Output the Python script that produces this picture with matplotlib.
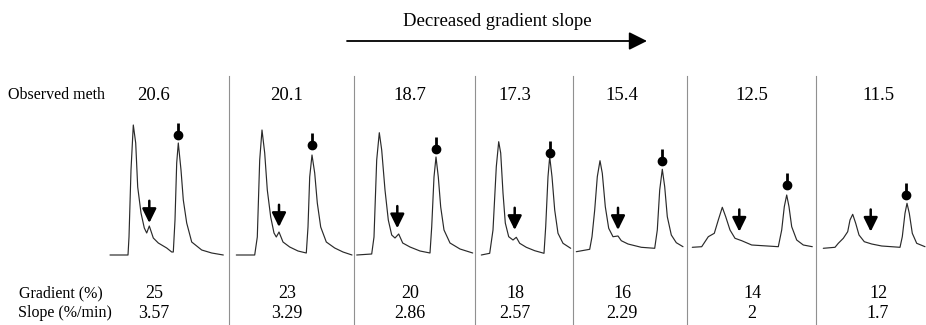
import matplotlib
matplotlib.use("Agg")
import matplotlib.pyplot as plt
from matplotlib.lines import Line2D
from matplotlib.patches import FancyArrowPatch

plt.rcParams['font.family'] = ['Liberation Serif', 'DejaVu Serif']

# ---------------- data ----------------
observed_meth = ["20.6", "20.1", "18.7", "17.3", "15.4", "12.5", "11.5"]
gradient_pct = ["25", "23", "20", "18", "16", "14", "12"]
slope_pct_min = ["3.57", "3.29", "2.86", "2.57", "2.29", "2", "1.7"]

# chromatogram traces (time in arbitrary units from panel start, signal in arbitrary units)
t1 = [5, 23, 24, 26, 28.3, 30.7, 32.7, 36, 39.3, 41.7, 44.3, 48.3, 53.3, 61.7, 66.7, 68.3, 70, 71.7, 73.3, 76, 78.3, 81.7, 86.7, 96.7, 106.7, 118.3]
s1 = [0, 0, 18, 85, 130, 112, 68, 42, 27, 22, 29, 17, 12, 7, 3, 3, 35, 92, 112, 85, 55, 32, 13, 5, 2, 0]
t2 = [7.3, 25.7, 28.3, 30.7, 33, 35.7, 38.3, 41.7, 45, 47.3, 50, 54, 60.7, 69, 77.3, 79, 80.7, 83, 85.7, 88.3, 91.7, 97.3, 105.7, 114, 123]
s2 = [0, 0, 18, 95, 125, 102, 65, 38, 22, 18, 23, 13, 8, 4, 2, 28, 78, 100, 82, 52, 28, 13, 7, 3, 0]
t3 = [2.7, 17.7, 20, 22.7, 25.3, 27.7, 31, 34.3, 37.7, 41, 44.7, 48.7, 56, 66, 76, 77.7, 80, 82, 84.3, 86.7, 90, 96, 106, 118.7]
s3 = [0, 1, 18, 95, 122.3, 105, 65, 35, 20, 17, 21, 12, 8, 4, 2, 28, 78, 98, 78, 48, 25, 12, 6, 2]
t4 = [6.3, 14.7, 18, 21.3, 23.7, 25.7, 28, 30.3, 33.7, 38, 41.3, 44.7, 51.3, 59.7, 69, 70.7, 73, 74.7, 77, 79.7, 83, 88, 95.7]
s4 = [0, 1.7, 25, 88.3, 113.3, 102, 62, 32, 18.3, 15, 17.7, 11.7, 7.7, 4.3, 1.7, 28.3, 78.3, 98.3, 78.3, 45, 21.7, 11.7, 6.7]
t5 = [3.3, 16.7, 19, 21.7, 24.3, 27, 29.3, 32.3, 35.7, 40, 45, 48.3, 55, 68.3, 81.7, 84.3, 86.7, 89.3, 91.7, 94.3, 98.3, 103.3, 110]
s5 = [3.3, 5.7, 18.3, 45, 78.3, 94.3, 81.7, 48.3, 26.7, 18.3, 19, 14.3, 11, 7.7, 6.7, 25, 65, 85.7, 68.3, 38.3, 20, 12.3, 8.3]
t6 = [5.3, 14.7, 18, 21.3, 27.3, 31.3, 35.3, 38.7, 43, 48, 54.7, 64.7, 91.3, 94.7, 97.3, 99.7, 102, 104.7, 109.7, 116.3, 125.3]
s6 = [7.7, 8.3, 13.3, 18.3, 21.7, 35, 47.7, 38.3, 25, 16.7, 14.3, 10, 8.3, 25, 48.3, 60, 48.3, 28.3, 15, 10, 8.3]
t7 = [7.3, 19, 22.3, 27.3, 31.7, 34, 36.7, 39.7, 43, 48.3, 55.7, 65.7, 84, 86.3, 89, 91, 93.3, 96.3, 100.7, 109]
s7 = [6.7, 7.7, 11.7, 16.7, 23.3, 35, 40.7, 31.7, 20, 13.3, 11, 9, 7.7, 18.3, 41.7, 51.7, 41.7, 21.7, 11.7, 8.3]

traces_t = [t1, t2, t3, t4, t5, t6, t7]
traces_s = [s1, s2, s3, s4, s5, s6, s7]

# marker positions (dot above main peak, arrow above minor shoulder)
dot_t = [73.3, 83, 82, 74.7, 89.3, 99.7, 90]
dot_s = [120, 110, 105.7, 101.7, 94.3, 70, 60]
arrow_t = [44.3, 50, 43.3, 39.7, 45, 52.3, 54.7]
arrow_tip_s = [32, 28, 26.7, 25, 25, 23.3, 23.3]

# ---------------- layout ----------------
W, H = 926, 325
fig = plt.figure(figsize=(W / 100, H / 100), dpi=100)
fig.patch.set_facecolor('white')

edges = [105, 229, 354, 475, 573, 687, 816, 926]
top_px, bot_px = 110, 265
base_px = 255

def fx(x):
    return x / W

def fy(y):
    return 1 - y / H

for i in range(7):
    L, R = edges[i], edges[i + 1]
    ax = fig.add_axes([fx(L), fy(bot_px), (R - L) / W, (bot_px - top_px) / H])
    ax.set_xlim(0, R - L)
    ax.set_ylim(base_px - bot_px, base_px - top_px)
    ax.axis('off')
    ax.plot(traces_t[i], traces_s[i], color='#2a2a2a', lw=0.85,
            solid_joinstyle='round', solid_capstyle='round')
    # dot marker with stem
    ax.vlines(dot_t[i], dot_s[i], dot_s[i] + 12, color='k', lw=2.0, clip_on=False)
    ax.plot([dot_t[i]], [dot_s[i]], 'o', color='k', ms=6, clip_on=False)
    # down arrow
    ax.annotate('', xy=(arrow_t[i], arrow_tip_s[i]), xytext=(0, 16),
                textcoords='offset points',
                arrowprops=dict(arrowstyle='-|>,head_length=0.85,head_width=0.42',
                                lw=1.8, color='k', shrinkA=0, shrinkB=0,
                                mutation_scale=10),
                annotation_clip=False)

# dividers
for x in edges[1:-1]:
    fig.add_artist(Line2D([fx(x), fx(x)], [fy(76), fy(325)], color='#909090', lw=0.8))

# title arrow
fig.add_artist(FancyArrowPatch((fx(347), fy(41)), (fx(647), fy(41)),
                               transform=fig.transFigure,
                               arrowstyle='-|>,head_length=11,head_width=5.5',
                               mutation_scale=1, lw=1.3, color='k',
                               shrinkA=0, shrinkB=0))
fig.text(fx(497), fy(22), "Decreased gradient slope", ha='center', va='center', fontsize=13.5)

# top row
fig.text(fx(8), fy(95), "Observed meth", ha='left', va='center', fontsize=11.5)
num_x = [154, 287, 410, 515, 622, 752, 878]
for x, lab in zip(num_x, observed_meth):
    fig.text(fx(x), fy(95), lab, ha='center', va='center', fontsize=13.5)

# bottom rows
fig.text(fx(19), fy(293), "Gradient (%)", ha='left', va='center', fontsize=11.5)
fig.text(fx(18), fy(313), "Slope (%/min)", ha='left', va='center', fontsize=11.5)
for x, g, s in zip(num_x, gradient_pct, slope_pct_min):
    fig.text(fx(x), fy(293), g, ha='center', va='center', fontsize=13)
    fig.text(fx(x), fy(313), s, ha='center', va='center', fontsize=13)

fig.savefig("out.png", dpi=100)
